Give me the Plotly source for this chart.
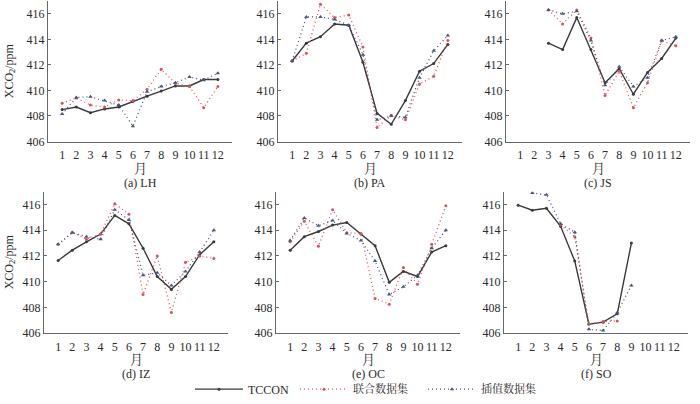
import plotly.graph_objects as go
from plotly.subplots import make_subplots

months = list(range(1, 13))
month_labels = [str(m) for m in months]
y_ticks = [406, 408, 410, 412, 414, 416]
panel_titles = ["(a) LH", "(b) PA", "(c) JS", "(d) IZ", "(e) OC", "(f) SO"]
series_names = ["TCCON", "联合数据集", "插值数据集"]
xlabel = "月"
ylabel = "XCO<sub>2</sub>/ppm"

N = None
# LH
lh_tccon = [408.5, 408.7, 408.25, 408.55, 408.7, 409.15, 409.55, 409.95, 410.35, 410.35, 410.85, 410.85]
lh_joint = [409.0, 409.4, 408.85, 408.7, 409.25, 409.2, 410.1, 411.65, 410.55, 410.3, 408.65, 410.3]
lh_interp = [408.15, 409.45, 409.5, 409.2, 408.85, 407.2, 409.9, 410.3, 410.6, 411.05, 410.8, 411.35]
# PA
pa_tccon = [412.3, 413.7, 414.2, 415.2, 415.1, 412.2, 408.2, 407.35, 409.2, 411.5, 412.1, 413.6]
pa_joint = [412.3, 412.9, 416.75, 415.7, 415.9, 413.4, 407.1, 408.05, 407.7, 410.5, 411.1, 413.9]
pa_interp = [412.3, 415.75, 415.75, 415.55, 415.1, 412.8, 407.7, 408.0, 407.9, 411.0, 413.1, 414.3]
# JS
js_tccon = [N, N, 413.7, 413.2, 415.7, 413.2, 410.6, 411.7, 409.7, 411.4, 412.5, 414.1]
js_joint = [N, N, 416.3, 415.2, 416.3, 414.1, 409.6, 411.5, 408.65, 410.6, 413.9, 413.5]
js_interp = [N, N, 416.3, 416.0, 416.2, 413.9, 410.4, 411.85, 410.3, 411.0, 413.9, 414.2]
# IZ
iz_tccon = [411.65, 412.45, 413.1, 413.7, 415.15, 414.5, 412.6, 410.4, 409.4, 410.4, 412.1, 413.1]
iz_joint = [412.9, 413.85, 413.3, 413.7, 416.05, 415.25, 409.0, 412.0, 407.6, 411.5, 412.0, 411.8]
iz_interp = [412.9, 413.8, 413.5, 413.3, 415.6, 414.8, 410.5, 410.7, 409.7, 410.8, 412.3, 414.0]
# OC
oc_tccon = [412.45, 413.5, 413.9, 414.4, 414.6, 413.7, 412.8, 409.95, 410.8, 410.4, 412.3, 412.8]
oc_joint = [413.1, 414.7, 412.75, 415.6, 413.8, 413.75, 408.7, 408.25, 411.1, 409.8, 412.9, 415.9]
oc_interp = [413.2, 414.95, 414.35, 414.75, 413.75, 413.2, 411.6, 409.0, 409.6, 410.5, 412.6, 414.0]
# SO
so_tccon = [415.95, 415.55, 415.7, 414.3, 411.6, 406.7, 406.85, 407.5, 413.0, N, N, N]
so_joint = [N, N, N, 414.4, 413.5, 406.7, 406.9, 406.95, N, N, N, N]
so_interp = [N, 416.9, 416.75, 414.5, 413.85, 406.3, 406.2, 407.6, 409.7, N, N, N]

panels = [
    (lh_tccon, lh_joint, lh_interp),
    (pa_tccon, pa_joint, pa_interp),
    (js_tccon, js_joint, js_interp),
    (iz_tccon, iz_joint, iz_interp),
    (oc_tccon, oc_joint, oc_interp),
    (so_tccon, so_joint, so_interp),
]

W, H = 700, 404
# pixel boxes (left, right, top, bottom)
boxes = [
    (48, 232, 1, 144), (278, 462, 1, 144), (506, 690, 1, 144),
    (44, 228, 195, 339), (276, 460, 195, 339), (504, 688, 195, 339),
]
legend_x = [190, 295, 423]

FONT = "Liberation Serif, Noto Serif CJK SC, Noto Sans CJK SC, serif"
TXT = "#2a2a2a"
styles = [
    dict(color="#3a3a3a", dash="solid", width=1.4, symbol="circle", msize=3),
    dict(color="#e0505a", dash="1px,3px", width=1.3, symbol="circle", msize=3),
    dict(color="#4a5580", dash="1px,3px", width=1.3, symbol="triangle-up", msize=4),
]
legend_ids = ["legend", "legend2", "legend3"]

fig = make_subplots(rows=2, cols=3)
for i, data in enumerate(panels):
    r, c = i // 3 + 1, i % 3 + 1
    for k, ys in enumerate(data):
        st = styles[k]
        fig.add_trace(go.Scatter(
            x=months, y=ys, mode="lines+markers", name=series_names[k],
            showlegend=(i == 0), connectgaps=False, legend=legend_ids[k],
            line=dict(color=st["color"], dash=st["dash"], width=st["width"]),
            marker=dict(color=st["color"], symbol=st["symbol"], size=st["msize"]),
        ), row=r, col=c)

annotations = []
for i, (l, rgt, t, b) in enumerate(boxes):
    xa = "xaxis" if i == 0 else f"xaxis{i+1}"
    ya = "yaxis" if i == 0 else f"yaxis{i+1}"
    fig.layout[xa].update(
        domain=[l / W, rgt / W], range=[0, 13], tickmode="array",
        tickvals=months, ticktext=month_labels, showline=True,
        linecolor="#666", linewidth=1, showgrid=False, zeroline=False,
        ticks="", tickangle=0, ticklabelstandoff=2,
        tickfont=dict(family=FONT, size=12, color=TXT),
    )
    fig.layout[ya].update(
        domain=[1 - b / H, 1 - t / H], range=[406, 417], tickmode="array",
        tickvals=y_ticks, showline=True, linecolor="#666", linewidth=1,
        showgrid=False, zeroline=False, ticks="inside", ticklen=3,
        tickcolor="#666", tickfont=dict(family=FONT, size=12, color=TXT),
    )
    cx = (l + rgt) / 2 / W
    annotations.append(dict(text=xlabel, x=cx, y=1 - (b + 27) / H, xref="paper", yref="paper",
                            xanchor="center", yanchor="middle",
                            showarrow=False, font=dict(family=FONT, size=13, color=TXT)))
    annotations.append(dict(text=panel_titles[i], x=cx, y=1 - (b + 42) / H, xref="paper", yref="paper",
                            xanchor="center", yanchor="middle",
                            showarrow=False, font=dict(family=FONT, size=12, color=TXT)))
    if i % 3 == 0:
        annotations.append(dict(text=ylabel, x=10 / W, y=1 - (t + b) / 2 / H, xref="paper", yref="paper",
                                xanchor="center", yanchor="middle",
                                showarrow=False, textangle=-90,
                                font=dict(family=FONT, size=12, color=TXT)))

legend_common = dict(orientation="h", y=1 - 396 / H, yanchor="middle", xanchor="left",
                     bgcolor="rgba(0,0,0,0)", itemwidth=48,
                     font=dict(family=FONT, size=12, color=TXT))
fig.update_layout(
    width=W, height=H, margin=dict(l=0, r=0, t=0, b=0),
    paper_bgcolor="white", plot_bgcolor="white",
    annotations=annotations,
    legend=dict(x=legend_x[0] / W, **legend_common),
    legend2=dict(x=legend_x[1] / W, **{**legend_common, "font": dict(family=FONT, size=11, color=TXT)}),
    legend3=dict(x=legend_x[2] / W, **{**legend_common, "font": dict(family=FONT, size=11, color=TXT)}),
    showlegend=True,
)

fig.write_html("out.html", config={"displayModeBar": False},
               post_script="document.body.style.margin='0';document.body.style.padding='0';")
